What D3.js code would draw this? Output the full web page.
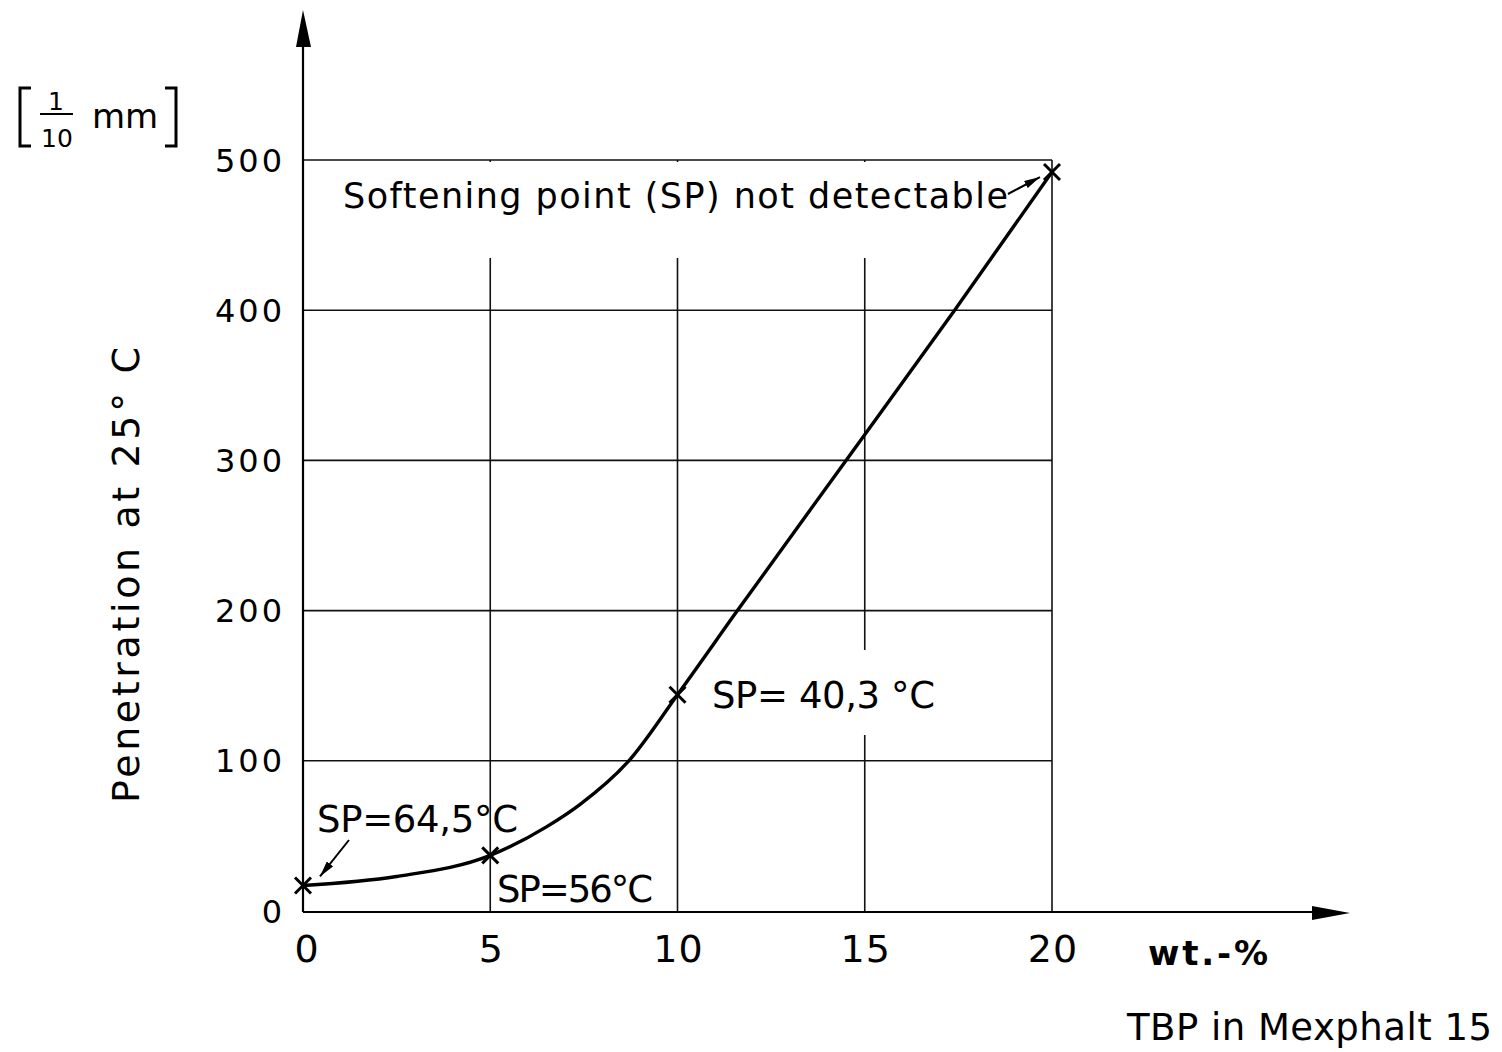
<!DOCTYPE html>
<html>
<head>
<meta charset="utf-8">
<script src="https://cdn.jsdelivr.net/npm/d3@7"></script>
<style>
  body { margin: 0; background: #fff; }
  svg { display: block; font-family: "DejaVu Sans", sans-serif; }
</style>
</head>
<body>
<script>
// Penetration at 25 C vs. TBP content in Mexphalt 15
var xTicks = [0, 5, 10, 15, 20];
var yTicks = [0, 100, 200, 300, 400, 500];

// measured samples (marked with x)
var sampleWt = [0, 5, 10, 20];
var samplePen = [17, 37, 144, 492];

// points
var curveWt = [0, 2.5, 5, 6.5, 7.4, 8.7, 10, 11.6, 14.5, 17.4, 20];
var curvePen = [17, 23, 37, 56, 71, 100, 144, 200, 300, 400, 492];

var labels = ["SP=64,5°C", "SP=56°C", "SP= 40,3 °C"];

var width = 1502, height = 1052;

var svg = d3.select("body").append("svg")
    .attr("width", width)
    .attr("height", height);

svg.append("rect")
    .attr("width", width)
    .attr("height", height)
    .attr("fill", "#fff");

var x = d3.scaleLinear().domain([0, 20]).range([303, 1052]);
var y = d3.scaleLinear().domain([0, 500]).range([911, 160]);

// Grid lines
var grid = svg.append("g").attr("stroke", "#111").attr("stroke-width", 1.6);

grid.selectAll(".hgrid")
    .data(yTicks.filter(function(d) { return d > 0; }))
    .enter()
    .append("line")
    .attr("class", "hgrid")
    .attr("x1", x(0))
    .attr("x2", x(20))
    .attr("y1", function(d) { return y(d); })
    .attr("y2", function(d) { return y(d); });

grid.selectAll(".vgrid")
    .data(xTicks.filter(function(d) { return d > 0; }))
    .enter()
    .append("line")
    .attr("class", "vgrid")
    .attr("x1", function(d) { return x(d); })
    .attr("x2", function(d) { return x(d); })
    .attr("y1", y(0))
    .attr("y2", y(500));

// white boxes behind the annotations (grid is broken there)
svg.append("rect")
    .attr("x", x(0) + 2).attr("y", y(500) + 2)
    .attr("width", x(20) - x(0) - 4).attr("height", 96)
    .attr("fill", "#fff");
svg.append("rect")
    .attr("x", 712).attr("y", 650)
    .attr("width", 230).attr("height", 85)
    .attr("fill", "#fff");

// Axes with arrow heads
var axes = svg.append("g").attr("stroke", "#000").attr("stroke-width", 2.2);
axes.append("line")
    .attr("x1", x(0)).attr("x2", x(0))
    .attr("y1", y(0) + 1).attr("y2", 30);
axes.append("line")
    .attr("x1", x(0)).attr("x2", 1320)
    .attr("y1", y(0) + 1).attr("y2", y(0) + 1);

svg.append("path")
    .attr("d", "M" + x(0) + ",10 L" + (x(0) - 7) + ",47 L" + (x(0) + 8) + ",47 Z")
    .attr("fill", "#000");
svg.append("path")
    .attr("d", "M1350," + (y(0) + 2) + " L1312," + (y(0) - 5) + " L1312," + (y(0) + 9) + " Z")
    .attr("fill", "#000");

// Tick labels
svg.selectAll(".ylab")
    .data(yTicks)
    .enter()
    .append("text")
    .attr("class", "ylab")
    .attr("x", 285)
    .attr("y", function(d) { return y(d); })
    .attr("dy", "0.36em")
    .attr("text-anchor", "end")
    .attr("letter-spacing", 3)
    .style("font-size", "32px")
    .text(function(d) { return d; });

svg.selectAll(".xlab")
    .data(xTicks)
    .enter()
    .append("text")
    .attr("class", "xlab")
    .attr("x", function(d) { return x(d) + (d == 0 ? 4 : 1); })
    .attr("y", 962)
    .attr("text-anchor", "middle")
    .attr("letter-spacing", 1)
    .style("font-size", "38px")
    .text(function(d) { return d; });

// Axis titles
svg.append("text")
    .attr("x", 1148)
    .attr("y", 965)
    .style("font-size", "34px")
    .style("font-weight", "bold")
    .attr("textLength", 120)
    .text("wt.-%");

svg.append("text")
    .attr("x", 1127)
    .attr("y", 1040)
    .style("font-size", "37px")
    .attr("textLength", 365)
    .text("TBP in Mexphalt 15");

svg.append("text")
    .attr("transform", "translate(139,575) rotate(-90)")
    .attr("text-anchor", "middle")
    .style("font-size", "38px")
    .attr("textLength", 456)
    .text("Penetration at 25° C");

// unit label [1/10 mm]
var unit = svg.append("g");
unit.append("path")
    .attr("d", "M31,88 L20,88 L20,146 L31,146 M165,88 L176,88 L176,146 L165,146")
    .attr("fill", "none")
    .attr("stroke", "#000")
    .attr("stroke-width", 3);
unit.append("text")
    .attr("x", 56).attr("y", 110)
    .attr("text-anchor", "middle")
    .style("font-size", "25px")
    .text("1");
unit.append("line")
    .attr("x1", 40).attr("x2", 73)
    .attr("y1", 114).attr("y2", 114)
    .attr("stroke", "#000").attr("stroke-width", 2);
unit.append("text")
    .attr("x", 57).attr("y", 147)
    .attr("text-anchor", "middle")
    .style("font-size", "25px")
    .text("10");
unit.append("text")
    .attr("x", 92).attr("y", 128)
    .style("font-size", "34px")
    .text("mm");

// The curve
var pts = curveWt.map(function(d, i) { return [d, curvePen[i]]; });
var line = d3.line()
    .x(function(d) { return x(d[0]); })
    .y(function(d) { return y(d[1]); })
    .curve(d3.curveMonotoneX);

svg.append("path")
    .datum(pts)
    .attr("d", line)
    .attr("fill", "none")
    .attr("stroke", "#000")
    .attr("stroke-width", 3.4);

// x markers
var s = 8;
svg.selectAll(".mark")
    .data(sampleWt)
    .enter()
    .append("path")
    .attr("class", "mark")
    .attr("d", function(d, i) {
        var cx = x(d), cy = y(samplePen[i]);
        return "M" + (cx - s) + "," + (cy - s) + "L" + (cx + s) + "," + (cy + s) +
               "M" + (cx - s) + "," + (cy + s) + "L" + (cx + s) + "," + (cy - s);
    })
    .attr("stroke", "#000")
    .attr("stroke-width", 3);

// Annotations
svg.append("defs").append("marker")
    .attr("id", "head")
    .attr("viewBox", "0 0 16 8")
    .attr("refX", 16).attr("refY", 4)
    .attr("markerWidth", 16).attr("markerHeight", 8)
    .attr("markerUnits", "userSpaceOnUse")
    .attr("orient", "auto")
    .append("path")
    .attr("d", "M0,0 L16,4 L0,8 Z")
    .attr("fill", "#000");

svg.append("text")
    .attr("x", 343).attr("y", 208)
    .style("font-size", "35px")
    .attr("textLength", 665)
    .text("Softening point (SP) not detectable");

svg.append("line")
    .attr("x1", 1008).attr("y1", 194)
    .attr("x2", x(20) - 12).attr("y2", y(samplePen[3]) + 5)
    .attr("stroke", "#000").attr("stroke-width", 2)
    .attr("marker-end", "url(#head)");

svg.append("text")
    .attr("x", 317).attr("y", 832)
    .style("font-size", "37px")
    .attr("textLength", 201)
    .text(labels[0]);

svg.append("line")
    .attr("x1", 349).attr("y1", 840)
    .attr("x2", x(0) + 17).attr("y2", y(samplePen[0]) - 9)
    .attr("stroke", "#000").attr("stroke-width", 2)
    .attr("marker-end", "url(#head)");

svg.append("text")
    .attr("x", 497).attr("y", 902)
    .style("font-size", "37px")
    .attr("textLength", 156)
    .text(labels[1]);

svg.append("text")
    .attr("x", 712).attr("y", 708)
    .style("font-size", "37px")
    .attr("textLength", 223)
    .text(labels[2]);
</script>
</body>
</html>
